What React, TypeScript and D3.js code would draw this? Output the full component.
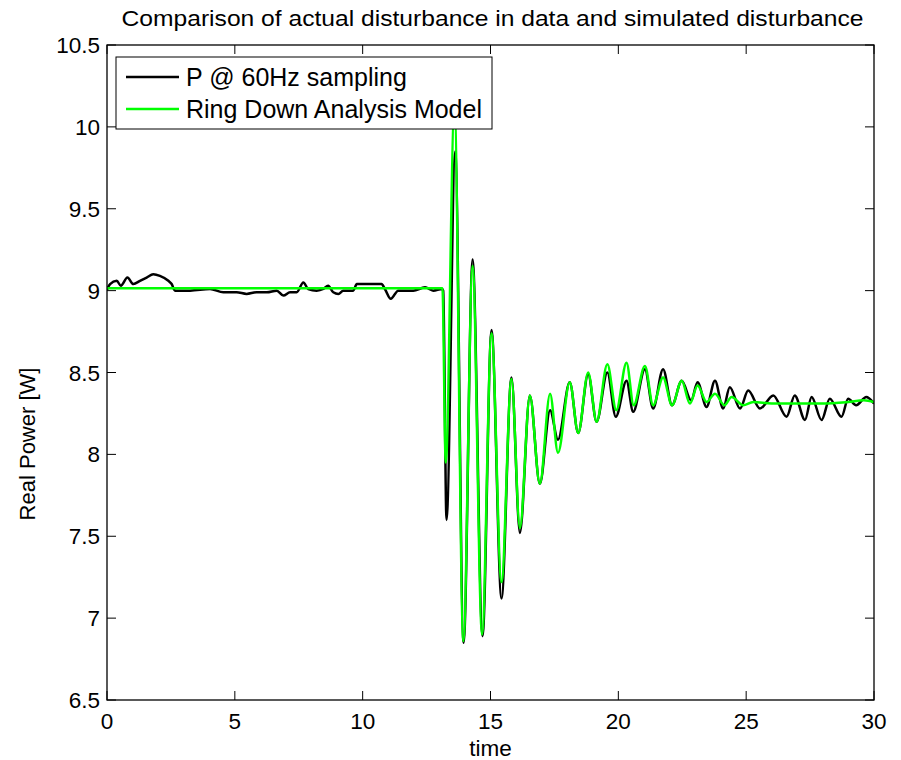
import React from "react";
import * as d3 from "d3";

const title = "Comparison of actual disturbance in data and simulated disturbance";
const xLabel = "time";
const yLabel = "Real Power [W]";
const seriesNames = ["P @ 60Hz sampling", "Ring Down Analysis Model"];
const xTicks = [0, 5, 10, 15, 20, 25, 30];
const yTicks = [6.5, 7, 7.5, 8, 8.5, 9, 9.5, 10, 10.5];

const blackT = [0, 0.12, 0.38, 0.54, 0.8, 1.03, 1.29, 1.55, 1.81, 2.07, 2.4, 2.53, 2.66, 2.99, 3.25, 4.03, 4.55, 5.07, 5.46, 5.85, 6.25, 6.64, 6.9, 7.16, 7.42, 7.68, 7.87, 8.2, 8.46, 8.65, 8.85, 9.05, 9.24, 9.63, 9.77, 10.16, 10.41, 10.74, 10.87, 11.1, 11.39, 11.98, 12.44, 12.76, 13.1,
  13.15, 13.28, 13.62, 13.95, 14.3, 14.69, 15.04, 15.43, 15.82, 16.15, 16.54, 16.93, 17.33, 17.64, 18.1, 18.43, 18.82, 19.15, 19.57, 19.9, 20.32, 20.58, 21.04, 21.36, 21.75, 22.1, 22.48, 22.85, 23.1, 23.45, 23.78, 24.1, 24.36, 24.76, 25.08, 25.54, 26.06, 26.58, 26.9, 27.3, 27.56, 27.95, 28.27, 28.73, 28.99, 29.3, 29.7, 30];
const blackP = [9.006, 9.04, 9.06, 9.03, 9.08, 9.04, 9.06, 9.08, 9.1, 9.09, 9.06, 9.04, 9.0, 9.0, 9.0, 9.01, 8.99, 8.99, 8.98, 8.99, 8.99, 9.0, 8.97, 8.99, 8.99, 9.05, 9.01, 9.0, 9.01, 9.03, 8.99, 8.98, 9.0, 9.0, 9.04, 9.04, 9.04, 9.04, 9.01, 8.95, 9.0, 9.0, 9.02, 9.0, 9.01,
  9.0, 7.6, 9.85, 6.85, 9.19, 6.89, 8.76, 7.12, 8.47, 7.52, 8.36, 7.82, 8.27, 8.09, 8.44, 8.13, 8.49, 8.2, 8.5, 8.23, 8.45, 8.26, 8.52, 8.28, 8.52, 8.3, 8.45, 8.33, 8.44, 8.29, 8.45, 8.28, 8.41, 8.28, 8.39, 8.28, 8.36, 8.23, 8.36, 8.21, 8.35, 8.21, 8.34, 8.23, 8.34, 8.3, 8.35, 8.31];

const greenT = [0, 13.12, 13.25, 13.59, 13.94, 14.3, 14.67, 15.04, 15.43, 15.82, 16.15, 16.54, 16.93, 17.33, 17.64, 18.1, 18.43, 18.82, 19.15, 19.57, 19.92, 20.32, 20.6, 21.04, 21.36, 21.75, 22.1, 22.48, 22.8, 23.1, 23.45, 23.78, 24.15, 24.43, 24.88, 25.28, 26, 27, 28, 29, 29.6, 30];
const greenP = [9.015, 9.015, 7.95, 10.12, 6.86, 9.15, 6.9, 8.74, 7.22, 8.46, 7.55, 8.36, 7.82, 8.37, 8.01, 8.44, 8.13, 8.5, 8.2, 8.55, 8.27, 8.56, 8.3, 8.54, 8.3, 8.47, 8.3, 8.45, 8.31, 8.42, 8.32, 8.37, 8.3, 8.35, 8.3, 8.32, 8.31, 8.31, 8.31, 8.32, 8.33, 8.32];

const W = 901, H = 760;
const L = 107, R = 874, T = 45, B = 700;
const FONT = "'Liberation Sans', Arial, sans-serif";

export default function App() {
  const x = d3.scaleLinear().domain([0, 30]).range([L, R]);
  const y = d3.scaleLinear().domain([6.5, 10.5]).range([B, T]);
  const line = d3.line<[number, number]>()
    .x((d) => x(d[0]))
    .y((d) => y(d[1]))
    .curve(d3.curveMonotoneX);
  const blackData = blackT.map((t, i) => [t, blackP[i]] as [number, number]);
  const greenData = greenT.map((t, i) => [t, greenP[i]] as [number, number]);
  const tickLen = 9;

  return (
    <svg width={W} height={H} style={{ position: "absolute", left: 0, top: 0, background: "#fff" }} fontFamily={FONT}>
      <rect x={0} y={0} width={W} height={H} fill="#fff" />
      <defs>
        <clipPath id="plotclip">
          <rect x={L} y={T} width={R - L} height={B - T} />
        </clipPath>
      </defs>
      <text x={(L + R) / 2 + 2} y={26} fontSize={22} textAnchor="middle" textLength={742} lengthAdjust="spacingAndGlyphs">{title}</text>
      <g clipPath="url(#plotclip)">
        <path d={line(blackData) || ""} fill="none" stroke="#000" strokeWidth={2.5} strokeLinejoin="round" />
        <path d={line(greenData) || ""} fill="none" stroke="#00ff00" strokeWidth={2.5} strokeLinejoin="round" />
      </g>
      {xTicks.map((t) => (
        <g key={"x" + t}>
          <line x1={x(t)} x2={x(t)} y1={B} y2={B - tickLen} stroke="#000" strokeWidth={1} />
          <line x1={x(t)} x2={x(t)} y1={T} y2={T + tickLen} stroke="#000" strokeWidth={1} />
          <text x={x(t)} y={729} fontSize={22.5} textAnchor="middle">{String(t)}</text>
        </g>
      ))}
      {yTicks.map((t) => (
        <g key={"y" + t}>
          <line x1={L} x2={L + tickLen} y1={y(t)} y2={y(t)} stroke="#000" strokeWidth={1} />
          <line x1={R} x2={R - tickLen} y1={y(t)} y2={y(t)} stroke="#000" strokeWidth={1} />
          <text x={100} y={y(t) + 8} fontSize={22.5} textAnchor="end">{String(t)}</text>
        </g>
      ))}
      <rect x={L} y={T} width={R - L} height={B - T} fill="none" stroke="#000" strokeWidth={1.3} />
      <text x={(L + R) / 2} y={756} fontSize={22.5} textAnchor="middle">{xLabel}</text>
      <text transform={`translate(35, ${444}) rotate(-90)`} fontSize={22} textAnchor="middle">{yLabel}</text>
      <g>
        <rect x={116} y={57} width={376} height={72} fill="#fff" stroke="#000" strokeWidth={1} />
        <line x1={126} x2={179} y1={77} y2={77} stroke="#000" strokeWidth={2.5} />
        <line x1={126} x2={179} y1={109} y2={109} stroke="#00ff00" strokeWidth={2.5} />
        <text x={186} y={86} fontSize={25}>{seriesNames[0]}</text>
        <text x={186} y={118} fontSize={25}>{seriesNames[1]}</text>
      </g>
    </svg>
  );
}
